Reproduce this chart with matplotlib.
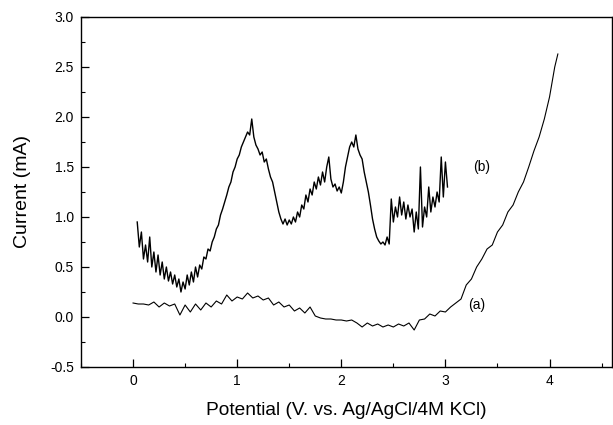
import matplotlib
matplotlib.use("Agg")
import matplotlib.pyplot as plt
from matplotlib.ticker import MultipleLocator

plt.rcParams['font.family'] = ['Liberation Sans', 'DejaVu Sans']

# Curve (a)
xa = [0.00, 0.05, 0.10, 0.15, 0.20, 0.25, 0.30, 0.35, 0.40, 0.45, 0.50, 0.55, 0.60, 0.65,
      0.70, 0.75, 0.80, 0.85, 0.90, 0.95, 1.00, 1.05, 1.10, 1.15, 1.20, 1.25, 1.30, 1.35,
      1.40, 1.45, 1.50, 1.55, 1.60, 1.65, 1.70, 1.75, 1.80, 1.85, 1.90, 1.95, 2.00, 2.05,
      2.10, 2.15, 2.20, 2.25, 2.30, 2.35, 2.40, 2.45, 2.50, 2.55, 2.60, 2.65, 2.70, 2.75,
      2.80, 2.85, 2.90, 2.95, 3.00, 3.05, 3.10, 3.15, 3.20, 3.25, 3.30, 3.35, 3.40, 3.45,
      3.50, 3.55, 3.60, 3.65, 3.70, 3.75, 3.80, 3.85, 3.90, 3.95, 4.00, 4.05, 4.08]
ya = [0.14, 0.13, 0.13, 0.12, 0.15, 0.10, 0.14, 0.11, 0.13, 0.02, 0.12, 0.05, 0.13, 0.07,
      0.14, 0.10, 0.16, 0.13, 0.22, 0.16, 0.20, 0.18, 0.24, 0.19, 0.21, 0.17, 0.19, 0.12,
      0.15, 0.10, 0.12, 0.06, 0.09, 0.04, 0.10, 0.01, -0.01, -0.02, -0.02, -0.03, -0.03, -0.04,
      -0.03, -0.06, -0.10, -0.06, -0.09, -0.07, -0.10, -0.08, -0.10, -0.07, -0.09, -0.06, -0.13, -0.03,
      -0.02, 0.03, 0.01, 0.06, 0.05, 0.10, 0.14, 0.18, 0.32, 0.38, 0.50, 0.58, 0.68, 0.72,
      0.85, 0.92, 1.05, 1.12, 1.25, 1.35, 1.50, 1.66, 1.80, 1.98, 2.20, 2.50, 2.63]

# Curve (b)
xb = [0.04, 0.06, 0.08, 0.10, 0.12, 0.14, 0.16, 0.18, 0.20, 0.22, 0.24, 0.26, 0.28, 0.30,
      0.32, 0.34, 0.36, 0.38, 0.40, 0.42, 0.44, 0.46, 0.48, 0.50, 0.52, 0.54, 0.56, 0.58,
      0.60, 0.62, 0.64, 0.66, 0.68, 0.70, 0.72, 0.74, 0.76, 0.78, 0.80, 0.82, 0.84, 0.86,
      0.88, 0.90, 0.92, 0.94, 0.96, 0.98, 1.00, 1.02, 1.04, 1.06, 1.08, 1.10, 1.12, 1.14,
      1.16, 1.18, 1.20, 1.22, 1.24, 1.26, 1.28, 1.30, 1.32, 1.34, 1.36, 1.38, 1.40, 1.42,
      1.44, 1.46, 1.48, 1.50, 1.52, 1.54, 1.56, 1.58, 1.60, 1.62, 1.64, 1.66, 1.68, 1.70,
      1.72, 1.74, 1.76, 1.78, 1.80, 1.82, 1.84, 1.86, 1.88, 1.90, 1.92, 1.94, 1.96, 1.98,
      2.00, 2.02, 2.04, 2.06, 2.08, 2.10, 2.12, 2.14, 2.16, 2.18, 2.20, 2.22, 2.24, 2.26,
      2.28, 2.30, 2.32, 2.34, 2.36, 2.38, 2.40, 2.42, 2.44, 2.46, 2.48, 2.50, 2.52, 2.54,
      2.56, 2.58, 2.60, 2.62, 2.64, 2.66, 2.68, 2.70, 2.72, 2.74, 2.76, 2.78, 2.80, 2.82,
      2.84, 2.86, 2.88, 2.90, 2.92, 2.94, 2.96, 2.98, 3.00, 3.02]
yb = [0.95, 0.70, 0.85, 0.58, 0.72, 0.55, 0.80, 0.50, 0.65, 0.45, 0.62, 0.42, 0.55, 0.38,
      0.50, 0.36, 0.45, 0.33, 0.42, 0.30, 0.38, 0.25, 0.35, 0.28, 0.42, 0.32, 0.45, 0.35,
      0.50, 0.40, 0.52, 0.48, 0.60, 0.58, 0.68, 0.66, 0.75, 0.80, 0.88, 0.92, 1.02, 1.08,
      1.15, 1.22, 1.30, 1.35, 1.45, 1.50, 1.58, 1.62, 1.70, 1.75, 1.80, 1.85, 1.82, 1.98,
      1.80, 1.72, 1.68, 1.62, 1.65, 1.55, 1.58, 1.48, 1.40, 1.35, 1.25, 1.15, 1.05, 0.98,
      0.93, 0.98, 0.92, 0.97, 0.93, 1.00, 0.95, 1.05, 1.00, 1.12, 1.08, 1.22, 1.15, 1.28,
      1.22, 1.35, 1.28, 1.40, 1.32, 1.45, 1.35, 1.50, 1.60, 1.38, 1.30, 1.33, 1.26, 1.30,
      1.24, 1.35, 1.50, 1.60, 1.70, 1.75, 1.70, 1.82, 1.68, 1.62, 1.58, 1.45, 1.35, 1.25,
      1.12, 0.98, 0.88, 0.80, 0.76, 0.73, 0.75, 0.72, 0.80, 0.73, 1.18, 0.95, 1.10, 1.00,
      1.20, 1.02, 1.15, 0.98, 1.12, 1.00, 1.08, 0.85, 1.05, 0.88, 1.50, 0.90, 1.10, 1.00,
      1.30, 1.05, 1.20, 1.10, 1.25, 1.15, 1.60, 1.20, 1.55, 1.30]

x_ticks = [0, 1, 2, 3, 4]
y_ticks = [-0.5, 0.0, 0.5, 1.0, 1.5, 2.0, 2.5, 3.0]

fig = plt.figure(figsize=(6.13, 4.25), dpi=100)
ax = fig.add_axes([81/613, (425-367)/425, (612-81)/613, (367-17)/425])

ax.plot(xa, ya, color='black', lw=0.8)
ax.plot(xb, yb, color='black', lw=1.0)

ax.text(3.35, 1.5, '(b)', fontsize=10, ha='center', va='center')
ax.text(3.30, 0.12, '(a)', fontsize=10, ha='center', va='center')

ax.set_xlim(-0.5, 4.6)
ax.set_ylim(-0.5, 3.0)
ax.set_xticks(x_ticks)
ax.set_yticks(y_ticks)
ax.set_yticklabels([f'{v:.1f}' for v in y_ticks])
ax.xaxis.set_minor_locator(MultipleLocator(0.5))
ax.yaxis.set_minor_locator(MultipleLocator(0.25))
ax.tick_params(which='major', direction='in', length=6, width=0.9, labelsize=10, pad=5)
ax.tick_params(which='minor', direction='in', length=3, width=0.8)
for s in ax.spines.values():
    s.set_linewidth(1.0)

ax.set_xlabel('Potential (V. vs. Ag/AgCl/4M KCl)', fontsize=13.8, labelpad=10)
ax.set_ylabel('Current (mA)', fontsize=14, labelpad=14)

fig.savefig('out.png', dpi=100)
